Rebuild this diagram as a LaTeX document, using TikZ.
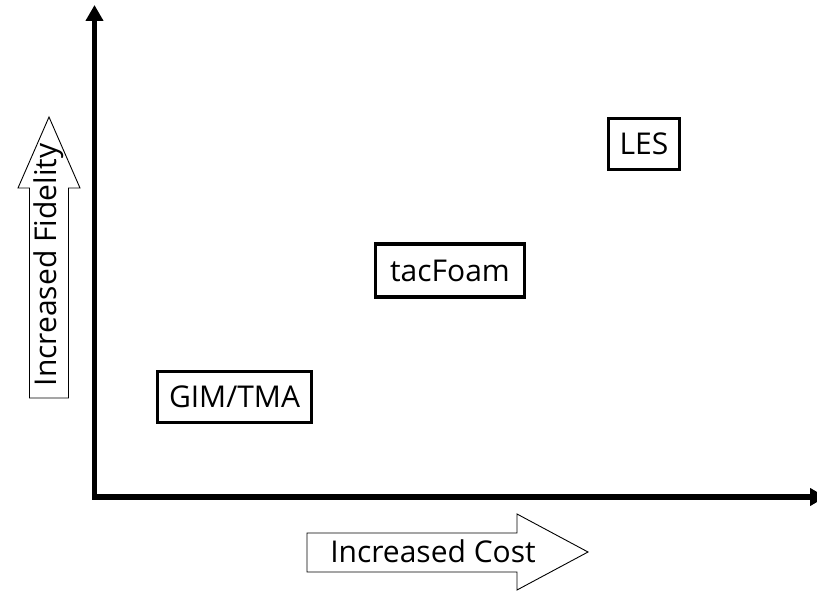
\documentclass[tikz,border=0pt]{standalone}
\usepackage{fontspec}
\setmainfont{Open Sans}
\usetikzlibrary{arrows.meta}
\tikzset{
  axis/.style={line width=5pt, -{Triangle[length=16pt,width=17pt]}},
  outlinearrow/.style={draw=black, line width=0.9pt, fill=white},
  method/.style={draw=black, line width=3.2pt, inner sep=0pt, font=\fontsize{30}{35}\selectfont},
  label/.style={font=\fontsize{30}{35}\selectfont, inner sep=0pt}
}
\begin{document}
\begin{tikzpicture}[x=1pt,y=-1pt]
\useasboundingbox (0,0) rectangle (817,593);
\clip (0,0) rectangle (817,593);
% axes
\coordinate (origin) at (94.5,497);
\coordinate (ytip) at (94.5,5);
\coordinate (xtip) at (826,497);
\draw[axis] (94.5,499.5) -- (ytip);
\draw[axis] (92,497) -- (xtip);
% fidelity arrow
\draw[outlinearrow] (29.5,398) -- (29.5,188) -- (18,188) -- (49,117) -- (80,188) -- (68.5,188) -- (68.5,398) -- cycle;
\node[label, rotate=90, anchor=base] (fid) at (56.5,265) {Increased Fidelity};
% cost arrow
\draw[outlinearrow] (307,533) -- (517,533) -- (517,514) -- (588,552) -- (517,590) -- (517,572) -- (307,572) -- cycle;
\node[label, anchor=base] (cost) at (433,562.5) {Increased Cost};
% methods
\node[method, minimum width=154pt, minimum height=51pt] (gim) at (234.5,397) {GIM/TMA};
\node[method, minimum width=149.5pt, minimum height=53pt] (tac) at (450,270.5) {tacFoam};
\node[method, minimum width=70.5pt, minimum height=51pt] (les) at (644,144) {LES};
\end{tikzpicture}
\end{document}
